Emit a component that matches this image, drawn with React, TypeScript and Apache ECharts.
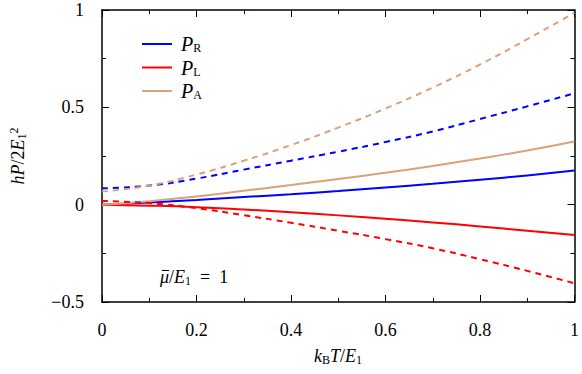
import React, { useEffect, useRef } from "react";
import * as echarts from "echarts";

const xValues = [0, 0.1, 0.2, 0.3, 0.4, 0.5, 0.6, 0.7, 0.8, 0.9, 1.0];
const rSolid = [0, 0.011, 0.024, 0.039, 0.054, 0.070, 0.088, 0.107, 0.128, 0.150, 0.175];
const lSolid = [0, -0.005, -0.013, -0.025, -0.039, -0.055, -0.072, -0.091, -0.112, -0.134, -0.156];
const aSolid = [0, 0.018, 0.042, 0.071, 0.101, 0.132, 0.164, 0.199, 0.237, 0.278, 0.324];
const rDashed = [0.084, 0.098, 0.134, 0.180, 0.226, 0.272, 0.322, 0.376, 0.440, 0.505, 0.572];
const lDashed = [0.019, 0.008, -0.018, -0.054, -0.093, -0.134, -0.177, -0.224, -0.280, -0.340, -0.404];
const aDashed = [0.067, 0.098, 0.155, 0.226, 0.306, 0.396, 0.494, 0.602, 0.720, 0.850, 0.986];

const BLUE = "#0000ff";
const RED = "#ff0000";
const TAN = "#dba07c";
const FONT = "'Liberation Serif', 'DejaVu Serif', serif";

const pair = (ys: number[]) => xValues.map((x, i) => [x, ys[i]]);

const fmt = (v: number) => {
  if (v === 0) return "0";
  const s = String(Math.abs(v));
  return v < 0 ? "\u2212" + s : s;
};

export default function App() {
  const ref = useRef<HTMLDivElement>(null);
  useEffect(() => {
    document.body.style.margin = "0";
    if (!ref.current) return;
    const chart = echarts.init(ref.current, null, { renderer: "svg" });
    const axisCommon = {
      type: "value" as const,
      axisLine: { show: true, onZero: false, lineStyle: { color: "#000", width: 1.5 } },
      axisTick: { show: true, inside: true, length: 7, lineStyle: { color: "#000", width: 1 } },
      minorTick: { show: true, splitNumber: 2, length: 4, lineStyle: { color: "#000", width: 1 } },
      splitLine: { show: false },
      minorSplitLine: { show: false },
    };
    const labelStyle = { color: "#000", fontFamily: FONT, fontSize: 18 };
    const line = (name: string, data: number[], color: string, dashed: boolean) => ({
      type: "line" as const,
      name,
      data: pair(data),
      smooth: true,
      showSymbol: false,
      symbol: "none",
      lineStyle: { color, width: 2, type: dashed ? [6, 5] : "solid" },
      itemStyle: { color },
      xAxisIndex: 0,
      yAxisIndex: 0,
    });
    const legendText: Record<string, string> = { R: "{p|P}{s|R}", L: "{p|P}{s|L}", A: "{p|P}{s|A}" };
    const sub = { fontFamily: FONT, fontSize: 12, color: "#000", verticalAlign: "bottom", padding: [8, 0, 0, 0] };
    const ital = { fontFamily: FONT, fontSize: 18, fontStyle: "italic", color: "#000" };
    chart.setOption({
      animation: false,
      grid: { left: 102, right: 7, top: 10, bottom: 72, containLabel: false },
      xAxis: [
        {
          ...axisCommon,
          position: "bottom",
          min: 0,
          max: 1,
          interval: 0.2,
          axisLabel: { ...labelStyle, margin: 19, formatter: fmt, showMaxLabel: true },
        },
        {
          ...axisCommon,
          position: "top",
          min: 0,
          max: 1,
          interval: 0.2,
          axisLabel: { show: false },
        },
      ],
      yAxis: [
        {
          ...axisCommon,
          position: "left",
          min: -0.5,
          max: 1,
          interval: 0.5,
          axisLabel: { ...labelStyle, margin: 18, formatter: fmt },
        },
        {
          ...axisCommon,
          position: "right",
          min: -0.5,
          max: 1,
          interval: 0.5,
          axisLabel: { show: false },
        },
      ],
      legend: {
        orient: "vertical",
        left: 137,
        top: 29,
        icon: "rect",
        itemWidth: 30,
        itemHeight: 2,
        itemGap: 3.5,
        data: ["R", "L", "A"],
        formatter: (n: string) => legendText[n],
        textStyle: {
          fontFamily: FONT,
          fontSize: 18,
          color: "#000",
          padding: [0, 0, 0, 4],
          rich: {
            p: { ...ital, fontSize: 20 },
            s: sub,
          },
        },
      },
      graphic: [
        {
          type: "text",
          x: 160,
          y: 277,
          style: {
            text: "{i|\u03bc}/{i|E}{s|1}\u2002=\u20021",
            align: "left",
            verticalAlign: "middle",
            fontFamily: FONT,
            fontSize: 18,
            fill: "#000",
            rich: { i: ital, s: sub },
          },
        },
        {
          type: "line",
          shape: { x1: 162, y1: 270.5, x2: 169, y2: 270.5 },
          style: { stroke: "#000", lineWidth: 1 },
        },
        {
          type: "text",
          x: 338,
          y: 356,
          style: {
            text: "{i|k}{s|B}{i|T}/{i|E}{s|1}",
            align: "center",
            verticalAlign: "middle",
            fontFamily: FONT,
            fontSize: 18,
            fill: "#000",
            rich: { i: ital, s: sub },
          },
        },
        {
          type: "text",
          x: 18,
          y: 156,
          rotation: Math.PI / 2,
          style: {
            text: "{i|hP}/2{i|E}{s|1}{u|2}",
            align: "center",
            verticalAlign: "middle",
            fontFamily: FONT,
            fontSize: 18,
            fill: "#000",
            rich: {
              i: ital,
              s: sub,
              u: { fontFamily: FONT, fontSize: 12, color: "#000", verticalAlign: "top", padding: [0, 0, 8, 0] },
            },
          },
        },
      ],
      series: [
        line("R", rSolid, BLUE, false),
        line("L", lSolid, RED, false),
        line("A", aSolid, TAN, false),
        line("R dashed", rDashed, BLUE, true),
        line("L dashed", lDashed, RED, true),
        line("A dashed", aDashed, TAN, true),
      ],
    });
    return () => chart.dispose();
  }, []);
  return <div ref={ref} style={{ width: 582, height: 374 }} />;
}
